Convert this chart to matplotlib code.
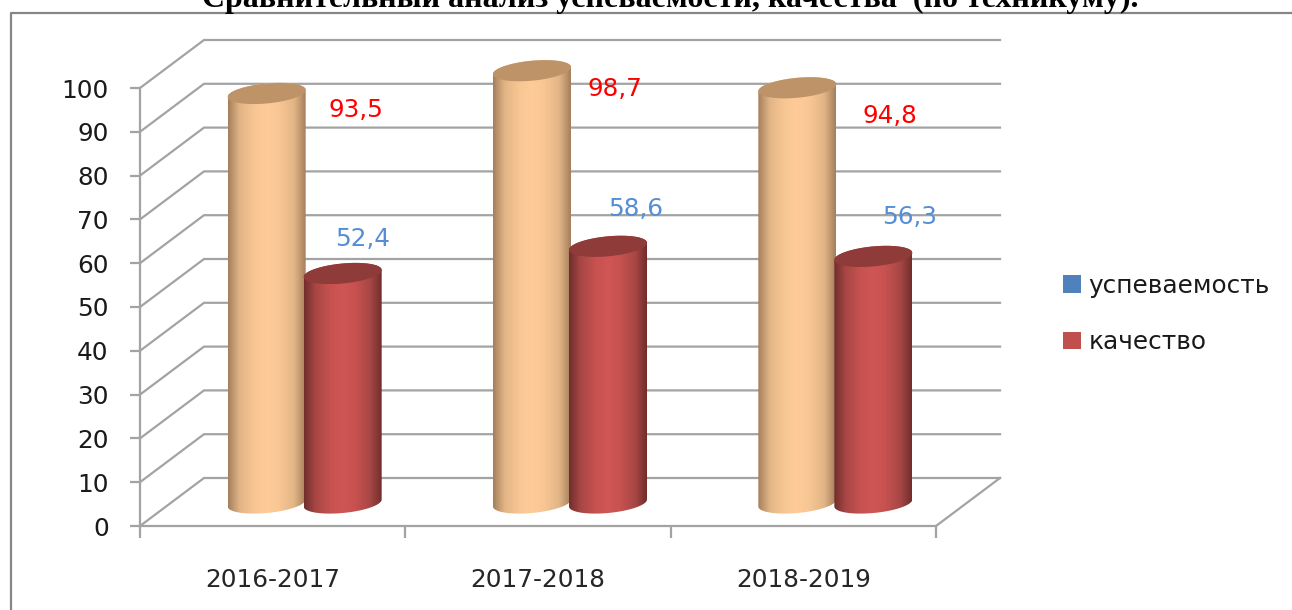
import numpy as np
import matplotlib
matplotlib.use('Agg')
import matplotlib.pyplot as plt
from matplotlib.colors import LinearSegmentedColormap
from matplotlib.lines import Line2D
from matplotlib.patches import Patch, Polygon
from matplotlib.path import Path

years = ['2016-2017', '2017-2018', '2018-2019']
uspevaemost = [93.5, 98.7, 94.8]
kachestvo = [52.4, 58.6, 56.3]
uspevaemost_labels = ['93,5', '98,7', '94,8']
kachestvo_labels = ['52,4', '58,6', '56,3']
y_ticks = list(range(0, 101, 10))
legend_names = ['успеваемость', 'качество']
title = 'Сравнительный анализ успеваемости, качества  (по техникуму).'

W, H = 1292, 610
plt.rcParams['font.family'] = ['DejaVu Sans']
fs = 17.8

fig = plt.figure(figsize=(W / 100, H / 100), dpi=100, facecolor='white')

# front plane of the 3d box, in pixels: x 140-936, y 526-88
ax = fig.add_axes([140 / W, (H - 526) / H, 796 / W, 438 / H])
ax.patch.set_alpha(0)
ax.set_xlim(0, 3)
ax.set_ylim(0, 100)
px_x = 3 / 796
px_y = 100 / 438

depth_x = 64 * px_x
depth_y = 48 * px_y
grid_col = '#a3a3a3'

# back gridlines and the slanted ones on the left wall
for v in y_ticks:
    ax.plot([0, depth_x, 3 + depth_x], [v, v + depth_y, v + depth_y],
            color=grid_col, lw=1.6, clip_on=False, zorder=1, solid_joinstyle='miter')
ax.plot([3, 3 + depth_x], [0, depth_y], color=grid_col, lw=1.6, clip_on=False, zorder=1)

for s in ['top', 'right']:
    ax.spines[s].set_visible(False)
for s in ['left', 'bottom']:
    ax.spines[s].set_color(grid_col)
    ax.spines[s].set_linewidth(1.6)
ax.set_yticks(y_ticks)
ax.set_xticks([0, 1, 2, 3])
ax.set_xticklabels([])
ax.set_xticks([0.5, 1.5, 2.5], minor=True)
ax.set_xticklabels(years, minor=True)
ax.tick_params(axis='y', length=7.5, width=1.6, color=grid_col, labelsize=fs,
               labelcolor='#1a1a1a', pad=15)
ax.tick_params(axis='x', which='major', length=8.5, width=1.6, color=grid_col)
ax.tick_params(axis='x', which='minor', length=0, labelsize=fs, labelcolor='#262626', pad=30)

orange_cmap = LinearSegmentedColormap.from_list(
    'orange', [(0, '#a47f5c'), (0.15, '#e3b586'), (0.35, '#f8c794'), (0.5, '#ffcc99'),
               (0.65, '#f8c794'), (0.85, '#e3b586'), (1, '#a47f5c')])
red_cmap = LinearSegmentedColormap.from_list(
    'red', [(0, '#702e2c'), (0.15, '#a84745'), (0.35, '#c85250'), (0.5, '#cf5654'),
            (0.65, '#c85250'), (0.85, '#a84745'), (1, '#702e2c')])

half_w = 39 * px_x
half_h = 10 * px_y
tilt = 3.5 * px_y
base = depth_y / 2 - 1 * px_y


def ellipse(cx, cy, t):
    return cx + half_w * np.cos(t), cy + half_h * np.sin(t) + tilt * np.cos(t)


def cylinder(cx, value, cmap, top_col, z):
    y0 = base
    y1 = base + value
    bx, by = ellipse(cx, y0, np.linspace(np.pi, 2 * np.pi, 60))
    tx, ty = ellipse(cx, y1, np.linspace(0, np.pi, 60))
    pts = np.column_stack([np.r_[bx, tx], np.r_[by, ty]])
    grad = np.linspace(0, 1, 256).reshape(1, -1)
    im = ax.imshow(grad, cmap=cmap, aspect='auto', zorder=z, interpolation='bilinear',
                   extent=[cx - half_w, cx + half_w, y0 - 2 * half_h, y1 + 2 * half_h])
    # whole figure as clip box, the tallest bars stick out over the front plane
    im.set_clip_box(fig.bbox)
    im.set_clip_path(Path(np.vstack([pts, pts[0]])), transform=ax.transData)
    ex, ey = ellipse(cx, y1, np.linspace(0, 2 * np.pi, 120))
    ax.add_patch(Polygon(np.column_stack([ex, ey]), closed=True, facecolor=top_col,
                         edgecolor='none', zorder=z + 0.5, clip_on=False))


shift = 38 * px_x
for i in range(len(years)):
    mid = i + 0.5 + depth_x / 2
    cylinder(mid - shift, uspevaemost[i], orange_cmap, '#bf9368', 3 + i)
    cylinder(mid + shift, kachestvo[i], red_cmap, '#8f3b39', 3.7 + i)

ax.set_xlim(0, 3)
ax.set_ylim(0, 100)

# hand placed value labels, offsets from the bar top in pixels
usp_off = [(89, 17), (83, 18), (93, 28)]
kach_off = [(20, 34), (28, 37), (36, 39)]
for i in range(len(years)):
    mid = i + 0.5 + depth_x / 2
    ax.annotate(uspevaemost_labels[i], (mid - shift, base + uspevaemost[i]),
                xytext=(usp_off[i][0] * 0.72, usp_off[i][1] * -0.72), textcoords='offset points',
                ha='center', va='center', color='#ff0000', fontsize=fs, zorder=10, annotation_clip=False)
    ax.annotate(kachestvo_labels[i], (mid + shift, base + kachestvo[i]),
                xytext=(kach_off[i][0] * 0.72, kach_off[i][1] * 0.72), textcoords='offset points',
                ha='center', va='center', color='#558ed5', fontsize=fs, zorder=10, annotation_clip=False)

handles = [Patch(facecolor='#4f81bd'), Patch(facecolor='#c0504d')]
fig.legend(handles, legend_names, loc='center left', bbox_to_anchor=(1063 / W, (H - 314) / H),
           frameon=False, fontsize=fs, labelcolor='#1a1a1a', borderpad=0, borderaxespad=0,
           handlelength=0.72, handleheight=0.72, handletextpad=0.32, labelspacing=1.3)

# outer frame, runs off the right and bottom of the picture
fig.add_artist(Line2D([11 / W, 11 / W, 1], [0, (H - 13) / H, (H - 13) / H], color='#868686', lw=1.6))

fig.text(670 / W, (H - 7) / H, title, ha='center', va='baseline', fontsize=23, fontweight='bold',
         family='Liberation Serif', color='black')

fig.savefig('out.png', dpi=100)
